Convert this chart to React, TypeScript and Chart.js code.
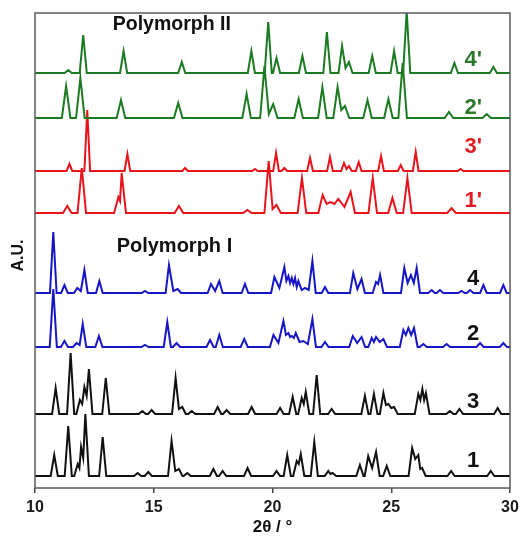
import { useEffect, useRef } from 'react';
import { Chart, registerables } from 'chart.js';

Chart.register(...registerables);

type Peak = [number, number, number?];

// axis
const X_MIN = 10;
const X_MAX = 30;
const X_STEP = 5;
const Y_MIN = 0;
const Y_MAX = 475;

// traces (top to bottom)
const traceNames = ["4'", "2'", "3'", "1'", '4', '2', '3', '1'];
const baselines = [415, 370, 317, 275, 195, 141, 74, 12];
const peakWidths = [0.15, 0.18, 0.12, 0.18, 0.14, 0.15, 0.15, 0.15];
const labelY = [428, 380, 341, 287, 209, 154, 86, 27];
const LABEL_X = 28.45;

const GREEN = '#1c7a22';
const RED = '#e8141c';
const BLUE = '#1616c4';
const BLACK = '#111111';
const lineColors = [GREEN, GREEN, RED, RED, BLUE, BLUE, BLACK, BLACK];
const labelColors = ['#2b7a2b', '#2b7a2b', '#e31b23', '#e31b23', '#111', '#111', '#111', '#111'];

// peaks: [2theta, height, valley-to-next (optional)]
const peaks4p: Peak[] = [
  [11.40, 3], [12.03, 38], [13.73, 22], [16.18, 11], [19.11, 22], [19.82, 51], [20.17, 15],
  [21.26, 17], [22.29, 41], [22.93, 27, 5], [23.22, 11], [24.20, 17], [25.12, 22], [25.65, 62],
  [27.66, 10], [29.30, 6],
];
const peaks2p: Peak[] = [
  [11.31, 32], [11.91, 40], [13.62, 18], [16.03, 15], [18.91, 24], [19.66, 52, 4], [20.03, 14],
  [21.10, 19], [22.10, 31], [22.74, 31, 8], [23.05, 12], [24.00, 18], [24.88, 19], [25.48, 55],
  [27.43, 6], [29.02, 4],
];
const peaks3p: Peak[] = [
  [11.45, 7], [12.20, 61], [13.89, 17], [16.32, 3], [19.26, 2], [20.15, 18], [20.50, 3], [21.58, 13],
  [22.42, 14], [23.01, 8, 2], [23.22, 5], [23.63, 9], [24.57, 15], [25.40, 6], [26.03, 19],
  [27.92, 2],
];
const peaks1p: Peak[] = [
  [11.36, 7], [11.97, 45], [13.51, 16, 12], [13.65, 40], [16.06, 7], [18.94, 3], [19.84, 52, 4],
  [20.17, 8], [21.24, 35], [22.11, 18, 9], [22.45, 11, 9], [22.77, 14, 6], [23.29, 21],
  [24.22, 35], [25.05, 15], [25.68, 35], [27.54, 5],
];
const peaks4: Peak[] = [
  [10.77, 61], [11.24, 8], [11.78, 5, 2], [12.08, 23], [12.71, 12], [14.63, 2], [15.64, 28, 2],
  [16.01, 4], [17.41, 9, 2], [17.76, 12], [18.84, 9], [20.08, 16, 5], [20.50, 26, 12],
  [20.67, 17, 10], [20.81, 15, 9], [20.95, 15, 6], [21.09, 12, 3], [21.37, 5, 3], [21.68, 32],
  [22.21, 6], [23.40, 20, 4], [23.75, 14], [24.36, 11, 9], [24.53, 18], [25.55, 25, 10],
  [25.83, 18, 10], [26.07, 25], [26.70, 3], [27.05, 3], [27.96, 2], [28.32, 3], [28.88, 8],
  [29.72, 8],
];
const peaks2: Peak[] = [
  [10.77, 58], [11.24, 6], [11.75, 4, 2], [12.01, 23], [12.69, 11], [14.63, 2], [15.57, 25],
  [15.96, 4], [17.37, 7], [17.76, 12], [18.81, 8], [20.04, 12, 4], [20.46, 26, 12],
  [20.67, 14, 10], [20.82, 11, 9], [20.98, 14, 5], [21.30, 6, 3], [21.68, 28], [22.21, 5],
  [23.38, 11, 4], [23.75, 10], [24.18, 9, 5], [24.36, 10, 5], [24.67, 8], [25.51, 17, 12],
  [25.72, 19, 12], [25.96, 19], [26.35, 3], [27.33, 3], [28.74, 4], [29.72, 4],
];
const peaks3: Peak[] = [
  [10.87, 26], [11.50, 61], [11.89, 14, 10], [12.08, 27, 18], [12.27, 45], [12.98, 36],
  [14.52, 3], [14.91, 4], [15.92, 36, 5], [16.20, 7], [16.60, 3], [17.69, 7], [18.07, 4],
  [19.12, 7], [20.32, 6], [20.85, 17], [21.23, 16, 10], [21.40, 22], [21.86, 39], [22.49, 5],
  [23.89, 18], [24.27, 20], [24.67, 21, 9], [24.88, 10, 6], [25.12, 7], [26.14, 20, 14],
  [26.31, 25, 14], [26.46, 21], [27.47, 3], [27.87, 5], [29.48, 6],
];
const peaks1: Peak[] = [
  [10.81, 21], [11.40, 50], [11.80, 12, 8], [11.94, 29, 18], [12.12, 62], [12.85, 39],
  [14.32, 3], [14.77, 4], [15.75, 35, 5], [16.06, 7], [16.41, 3], [17.51, 7], [17.90, 5],
  [18.95, 8], [20.17, 5], [20.62, 21], [21.02, 15, 12], [21.19, 22], [21.76, 34], [22.35, 5, 2],
  [22.53, 3], [23.68, 11], [24.03, 20, 8], [24.36, 24], [24.81, 10], [25.88, 28, 17],
  [26.14, 21, 7], [26.30, 8], [27.52, 5], [29.19, 5],
];
const allPeaks = [peaks4p, peaks2p, peaks3p, peaks1p, peaks4, peaks2, peaks3, peaks1];

const FONT = '"Liberation Sans", Arial, sans-serif';

function buildSeries(peaks: Peak[], base: number, w: number) {
  const pts: { x: number; y: number }[] = [{ x: X_MIN, y: base }];
  let joined = false;
  peaks.forEach((p, i) => {
    const [pos, h, valley] = p;
    if (!joined) pts.push({ x: pos - w, y: base });
    pts.push({ x: pos, y: base + h });
    const next = peaks[i + 1];
    if (valley !== undefined && next) {
      pts.push({ x: (pos + next[0]) / 2, y: base + valley });
      joined = true;
    } else {
      pts.push({ x: pos + w, y: base });
      joined = false;
    }
  });
  pts.push({ x: X_MAX, y: base });
  return pts;
}

const decorPlugin = {
  id: 'decor',
  afterDatasetsDraw(chart: any) {
    const { ctx, chartArea, scales } = chart;
    const xs = scales.x;
    const ys = scales.y;
    ctx.save();
    ctx.strokeStyle = '#5a5a5a';
    ctx.lineWidth = 1.5;
    ctx.strokeRect(chartArea.left, chartArea.top, chartArea.right - chartArea.left, chartArea.bottom - chartArea.top);

    ctx.textAlign = 'center';
    ctx.textBaseline = 'middle';
    // trace labels
    ctx.font = `bold 22px ${FONT}`;
    traceNames.forEach((name, i) => {
      ctx.fillStyle = labelColors[i];
      ctx.fillText(name, xs.getPixelForValue(LABEL_X), ys.getPixelForValue(labelY[i]));
    });
    // polymorph labels
    ctx.fillStyle = '#111';
    ctx.font = `bold 19.5px ${FONT}`;
    ctx.fillText('Polymorph II', xs.getPixelForValue(15.76), ys.getPixelForValue(463));
    ctx.font = `bold 20px ${FONT}`;
    ctx.fillText('Polymorph I', xs.getPixelForValue(15.87), ys.getPixelForValue(242));

    // axis titles
    ctx.font = `bold 17px ${FONT}`;
    ctx.fillText('2θ / °', (chartArea.left + chartArea.right) / 2, 527);
    ctx.font = `bold 16px ${FONT}`;
    ctx.translate(19, (chartArea.top + chartArea.bottom) / 2 + 5);
    ctx.rotate(-Math.PI / 2);
    ctx.fillText('A.U.', 0, 0);
    ctx.restore();
  },
};

export default function App() {
  const ref = useRef<HTMLCanvasElement>(null);
  useEffect(() => {
    if (!ref.current) return;
    const datasets = allPeaks.map((pk, i) => ({
      label: traceNames[i],
      data: buildSeries(pk, baselines[i], peakWidths[i]),
      borderColor: lineColors[i],
      borderWidth: 2,
      pointRadius: 0,
      tension: 0,
      fill: false,
    }));
    const chart = new Chart(ref.current, {
      type: 'line',
      data: { datasets },
      options: {
        animation: false,
        responsive: true,
        maintainAspectRatio: false,
        layout: { padding: { left: 35, right: 10, top: 13, bottom: 0 } },
        plugins: { legend: { display: false }, tooltip: { enabled: false } },
        scales: {
          x: {
            type: 'linear',
            min: X_MIN,
            max: X_MAX,
            border: { display: false },
            grid: { drawOnChartArea: false, drawTicks: true, tickLength: 5, color: '#444', lineWidth: 1.5 },
            ticks: {
              stepSize: X_STEP,
              padding: 5,
              color: '#1a1a1a',
              font: { family: FONT, size: 16, weight: 'bold' },
              maxRotation: 0,
            },
            afterFit: (scale: any) => {
              scale.height = 56;
              scale.paddingLeft = 0;
              scale.paddingRight = 0;
            },
          },
          y: {
            type: 'linear',
            display: false,
            min: Y_MIN,
            max: Y_MAX,
          },
        },
      },
      plugins: [decorPlugin],
    });
    return () => chart.destroy();
  }, []);
  return (
    <div style={{ position: 'fixed', left: 0, top: 0, width: 520, height: 544 }}>
      <canvas ref={ref} />
    </div>
  );
}
